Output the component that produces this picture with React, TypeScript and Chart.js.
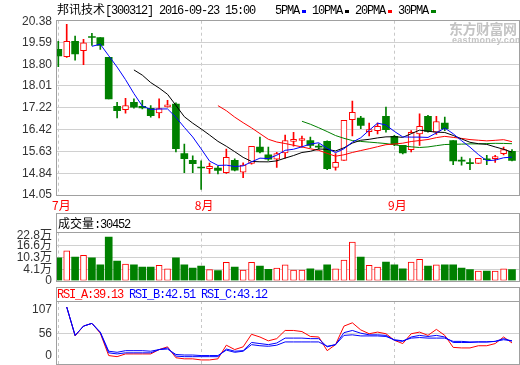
import React, { useEffect, useRef } from 'react';
import { Chart, registerables } from 'chart.js';

Chart.register(...registerables);

// ---------------- data ----------------
const stockName = '邦讯技术';
const stockCode = '[300312]';
const stamp = '2016-09-23 15:00';

const monthIndex = [0, 17, 40];
const monthLabels = ['7月', '8月', '9月'];

const priceTicks = [14.05, 14.84, 15.63, 16.42, 17.22, 18.01, 18.8, 19.59, 20.38];

const openP = [19.34, 19.07, 19.63, 19.29, 19.78, 19.77, 19.05, 17.27, 17.15, 17.42,
  17.27, 17.2, 17.03, 17.25, 17.35, 15.55, 15.31, 15.05, 15.01, 15.03,
  14.86, 15.31, 14.88, 15.2, 15.79, 15.51, 15.35, 15.58, 16.0, 16.03,
  16.03, 15.81, 16.0, 15.05, 15.31, 16.79, 16.84, 16.35, 16.39, 16.91,
  16.18, 15.85, 15.7, 16.27, 16.91, 16.33, 16.66, 16.03, 15.3, 15.2,
  15.2, 15.35, 15.37, 15.55, 15.64];
const highP = [19.63, 20.25, 19.82, 19.7, 19.92, 19.77, 19.05, 17.42, 17.56, 17.54,
  17.49, 17.3, 17.54, 17.49, 17.4, 15.9, 15.47, 15.29, 15.21, 15.1,
  15.72, 15.36, 15.22, 15.82, 16.15, 15.79, 15.6, 16.23, 16.33, 16.19,
  16.15, 15.91, 16.02, 15.55, 16.76, 17.46, 16.91, 16.66, 16.66, 17.24,
  16.22, 15.85, 16.39, 17.0, 16.94, 16.91, 16.88, 16.03, 15.43, 15.37,
  15.38, 15.49, 15.49, 15.79, 15.7];
const lowP = [18.71, 19.05, 18.95, 18.78, 19.48, 19.34, 17.54, 16.85, 17.02, 17.2,
  17.18, 16.88, 16.85, 17.24, 15.61, 14.86, 14.86, 14.25, 14.83, 14.82,
  14.83, 14.92, 14.68, 15.17, 15.58, 15.31, 15.05, 15.39, 15.82, 15.79,
  15.77, 15.71, 14.97, 14.95, 15.31, 16.2, 16.46, 16.2, 16.27, 16.33,
  15.84, 15.54, 15.61, 15.85, 16.33, 16.25, 16.39, 15.15, 15.13, 14.97,
  15.2, 15.15, 15.23, 15.51, 15.29];
const closeP = [19.1, 19.63, 19.17, 19.58, 19.77, 19.48, 17.54, 17.11, 17.3, 17.24,
  17.21, 16.93, 17.19, 17.31, 15.73, 15.37, 15.19, 15.03, 15.09, 14.94,
  15.42, 14.95, 15.14, 15.82, 15.61, 15.35, 15.55, 16.03, 16.02, 16.05,
  15.85, 15.79, 15.01, 15.24, 16.76, 17.05, 16.58, 16.37, 16.54, 16.42,
  15.89, 15.58, 16.33, 16.54, 16.36, 16.72, 16.46, 15.29, 15.28, 15.19,
  15.38, 15.33, 15.41, 15.7, 15.31];

// volume, in 万
const volume = [10.2, 13.8, 10.6, 11.5, 10.1, 6.4, 21.1, 8.5, 6.9, 6.4,
  5.3, 5.3, 6.2, 4.3, 10.2, 6.4, 4.8, 5.8, 3.9, 3.4,
  7.8, 5.3, 3.7, 7.8, 5.8, 4.1, 4.8, 6.4, 3.7, 3.7,
  4.4, 3.4, 6.4, 4.3, 9.0, 18.5, 10.6, 6.2, 5.3, 7.9,
  6.4, 4.3, 7.9, 9.4, 5.8, 6.4, 6.4, 6.4, 4.8, 3.9,
  3.2, 3.2, 3.2, 4.3, 3.9];
const volTicks = [4.1, 10.3, 16.6, 22.8];
const lastVolume = 30452;

const rsiA = [null, 105, 52, 70, 75, 57, 16, 14, 19, 19, 19, 19, 27, 32, 12, 10, 10, 8, 8, 10,
  35, 27, 32, 55, 50, 43, 47, 62, 62, 60, 51, 50, 25, 36, 70, 76, 63, 56, 59, 56,
  44, 38, 56, 59, 53, 64, 53, 31, 30, 30, 34, 34, 38, 50, 39.13];
const rsiB = [null, 105, 53, 70, 75, 58, 21, 19, 21, 21, 21, 21, 27, 30, 15, 14, 14, 14, 14, 14,
  28, 24, 25, 40, 38, 36, 39, 48, 48, 48, 47, 47, 32, 36, 58, 62, 57, 54, 54, 53,
  44, 42, 50, 53, 51, 53, 50, 40, 40, 40, 41, 41, 42, 47, 42.51];
const rsiC = [null, 105, 53, 70, 75, 59, 24, 22, 25, 25, 25, 24, 27, 28, 18, 17, 17, 16, 16, 16,
  26, 22, 24, 36, 34, 33, 35, 41, 41, 41, 41, 41, 33, 36, 53, 54, 52, 52, 52, 51,
  45, 43, 48, 49, 48, 48, 48, 42, 42, 41, 41, 41, 42, 45, 43.12];
const rsiTicks = [0, 56, 107];
const rsiNames = ['RSI_A', 'RSI_B', 'RSI_C'];
const rsiLast = [39.13, 42.51, 43.12];

const maPeriods = [5, 10, 20, 30];
const maNames = ['5PMA', '10PMA', '20PMA', '30PMA'];

// ---------------- styling ----------------
const UP = '#ff0000';
const DOWN = '#008000';
const MA_COLORS = ['#0000ff', '#000000', '#ff0000', '#008000'];
const RSI_COLORS = ['#ff0000', '#0000ff', '#0000ff'];
const GRID = '#d0d0d0';
const VGRID = '#c8c8c8';
const FRAME = '#a0a0a0';
const X_MIN = -0.274;
const X_MAX = 54.834;
const VOL_MIN = -1.8;
const VOL_MAX = 23.5;
const MONO = '"Liberation Mono", "DejaVu Sans Mono", monospace';
const CJK = '"Noto Sans CJK SC", sans-serif';

function movingAverage(values: number[], n: number): (number | null)[] {
  return values.map((_, i) => {
    if (i < n - 1) return null;
    let s = 0;
    for (let k = i - n + 1; k <= i; k++) s += values[k];
    return s / n;
  });
}

type LabelItem = { value: number; text: string };

function axisLabelPlugin(items: LabelItem[], padTop: number, padBottom: number) {
  return {
    id: 'axisLabels',
    afterDraw(chart: any) {
      const { ctx, chartArea } = chart;
      const scale = chart.scales.y;
      ctx.save();
      ctx.font = '12px "Liberation Sans", "Noto Sans CJK SC", sans-serif';
      ctx.fillStyle = '#333333';
      ctx.textAlign = 'right';
      ctx.textBaseline = 'middle';
      items.forEach(({ value, text }) => {
        const raw = scale.getPixelForValue(value);
        const y = Math.min(Math.max(raw, chartArea.top + padTop), chartArea.bottom - padBottom);
        ctx.fillText(text, 52, y);
      });
      ctx.restore();
    },
  };
}

function xAxis(showLabels: boolean, height: number) {
  return {
    type: 'linear',
    min: X_MIN,
    max: X_MAX,
    offset: false,
    afterBuildTicks: (s: any) => {
      s.ticks = monthIndex.map((v) => ({ value: v }));
    },
    afterFit: (s: any) => {
      s.height = height;
    },
    grid: { color: VGRID, drawTicks: false, offset: false, lineWidth: 1 },
    border: { display: false, dash: [3, 3] },
    ticks: showLabels
      ? {
          display: true,
          color: '#ff0000',
          font: { size: 12, family: CJK },
          padding: 3,
          labelOffset: 3,
          autoSkip: false,
          maxRotation: 0,
          callback: (v: number) => {
            const k = monthIndex.indexOf(v);
            return k >= 0 ? monthLabels[k] : '';
          },
        }
      : { display: false },
  };
}

function yAxis(min: number, max: number, ticks: number[], gridOn: (v: number) => boolean) {
  return {
    type: 'linear',
    min,
    max,
    afterBuildTicks: (s: any) => {
      s.ticks = ticks.map((v) => ({ value: v }));
    },
    afterFit: (s: any) => {
      s.width = 56;
    },
    ticks: { display: false },
    grid: {
      drawTicks: false,
      lineWidth: 1,
      color: (c: any) => (c.tick && gridOn(c.tick.value) ? GRID : 'rgba(0,0,0,0)'),
    },
    border: { display: false },
  };
}

const baseOptions = {
  responsive: false,
  maintainAspectRatio: false,
  animation: false,
  devicePixelRatio: 1,
  events: [],
  plugins: { legend: { display: false }, tooltip: { enabled: false }, title: { display: false } },
};

export default function App() {
  const priceRef = useRef<HTMLCanvasElement>(null);
  const volRef = useRef<HTMLCanvasElement>(null);
  const rsiRef = useRef<HTMLCanvasElement>(null);

  useEffect(() => {
    const charts: Chart[] = [];
    const idx = closeP.map((_, i) => i);
    const isUp = idx.map((i) => closeP[i] > openP[i]);

    // ----- price panel -----
    const wicks = idx.map((i) => ({ x: i, y: [lowP[i], highP[i]] }));
    const wickColors = idx.map((i) => (isUp[i] ? UP : DOWN));
    const upBodies = idx.filter((i) => isUp[i]).map((i) => ({ x: i, y: [openP[i], closeP[i]] }));
    const downBodies = idx.filter((i) => !isUp[i]).map((i) => ({ x: i, y: [openP[i], closeP[i]] }));
    const maSets = maPeriods.map((n, k) => ({
      type: 'line',
      data: movingAverage(closeP, n).map((v, i) => ({ x: i, y: v })),
      borderColor: MA_COLORS[k],
      borderWidth: 1,
      pointRadius: 0,
      fill: false,
      tension: 0,
      spanGaps: false,
      order: 0,
    }));

    if (priceRef.current) {
      charts.push(
        new Chart(priceRef.current, {
          type: 'bar',
          data: {
            datasets: [
              { type: 'bar', data: wicks, backgroundColor: wickColors, borderWidth: 0, barThickness: 1, grouped: false, order: 3 },
              { type: 'bar', data: upBodies, backgroundColor: '#ffffff', borderColor: UP, borderWidth: 1, borderSkipped: false, barThickness: 6, minBarLength: 2, grouped: false, order: 2 },
              { type: 'bar', data: downBodies, backgroundColor: DOWN, borderWidth: 0, barThickness: 7, minBarLength: 1, grouped: false, order: 2 },
              ...maSets,
            ] as any,
          },
          options: {
            ...baseOptions,
            layout: { padding: { top: 20.7, right: 1, left: 0, bottom: 0 } },
            scales: {
              x: xAxis(true, 18),
              y: yAxis(priceTicks[0], priceTicks[priceTicks.length - 1], priceTicks, (v) => v !== priceTicks[0] && v !== priceTicks[priceTicks.length - 1]),
            },
          } as any,
          plugins: [axisLabelPlugin(priceTicks.map((v) => ({ value: v, text: v.toFixed(2) })), 1, 0)],
        })
      );
    }

    // ----- volume panel -----
    const upVol = idx.filter((i) => isUp[i]).map((i) => ({ x: i, y: volume[i] }));
    const downVol = idx.filter((i) => !isUp[i]).map((i) => ({ x: i, y: volume[i] }));
    if (volRef.current) {
      const volLabels: LabelItem[] = [{ value: VOL_MIN, text: '0' }, ...volTicks.map((v) => ({ value: v, text: `${v.toFixed(1)}万` }))];
      charts.push(
        new Chart(volRef.current, {
          type: 'bar',
          data: {
            datasets: [
              { type: 'bar', data: upVol, backgroundColor: '#ffffff', borderColor: UP, borderWidth: 1, borderSkipped: false, barThickness: 6, base: VOL_MIN, grouped: false },
              { type: 'bar', data: downVol, backgroundColor: DOWN, borderWidth: 0, barThickness: 7, base: VOL_MIN, grouped: false },
            ] as any,
          },
          options: {
            ...baseOptions,
            layout: { padding: { top: 4.5, right: 1, left: 0, bottom: 0 } },
            scales: {
              x: xAxis(false, 7.5),
              y: yAxis(VOL_MIN, VOL_MAX, volTicks, (v) => v !== volTicks[volTicks.length - 1]),
            },
          } as any,
          plugins: [axisLabelPlugin(volLabels, 3.5, 0)],
        })
      );
    }

    // ----- RSI panel -----
    if (rsiRef.current) {
      const rsiSets = [rsiA, rsiB, rsiC].map((arr, k) => ({
        type: 'line',
        data: arr.map((v, i) => ({ x: i, y: v })),
        borderColor: RSI_COLORS[k],
        borderWidth: 1,
        pointRadius: 0,
        fill: false,
        tension: 0,
        spanGaps: false,
        order: 2 - k,
      }));
      charts.push(
        new Chart(rsiRef.current, {
          type: 'line',
          data: { datasets: rsiSets as any },
          options: {
            ...baseOptions,
            layout: { padding: { top: 5, right: 1, left: 0, bottom: 0 } },
            scales: {
              x: xAxis(false, 0.7),
              y: yAxis(0, 116, rsiTicks, (v) => v === 56),
            },
          } as any,
          plugins: [axisLabelPlugin(rsiTicks.map((v) => ({ value: v, text: String(v) })), 8.5, 9)],
        })
      );
    }

    return () => charts.forEach((c) => c.destroy());
  }, []);

  const frame = (left: number, top: number, width: number, height: number): React.CSSProperties => ({
    position: 'absolute',
    left,
    top,
    width,
    height,
    border: `1px solid ${FRAME}`,
    boxSizing: 'border-box',
    pointerEvents: 'none',
  });
  const mono: React.CSSProperties = { fontFamily: MONO, fontSize: 12, letterSpacing: '-1.2px', lineHeight: '12px', whiteSpace: 'pre' };
  const cjk: React.CSSProperties = { fontFamily: CJK, fontSize: 12, lineHeight: '12px', whiteSpace: 'pre' };

  return (
    <div style={{ position: 'absolute', left: 0, top: 0, width: 520, height: 365, background: '#ffffff', overflow: 'hidden' }}>
      <canvas ref={priceRef} width={520} height={213} style={{ position: 'absolute', left: 0, top: 0, width: 520, height: 213 }} />
      <canvas ref={volRef} width={520} height={60} style={{ position: 'absolute', left: 0, top: 228, width: 520, height: 60 }} />
      <canvas ref={rsiRef} width={520} height={69} style={{ position: 'absolute', left: 0, top: 296, width: 520, height: 69 }} />

      {/* title */}
      <div style={{ position: 'absolute', left: 57, top: 3, color: '#000', display: 'flex', alignItems: 'baseline' }}>
        <span style={cjk}>{stockName}</span>
        <span style={mono}>{`${stockCode} ${stamp}`}</span>
      </div>

      {/* legend */}
      <div style={{ position: 'absolute', left: 275, top: 5, display: 'flex', alignItems: 'center', color: '#000' }}>
        {maNames.map((name, k) => (
          <React.Fragment key={name}>
            <span style={mono}>{name}</span>
            <span style={{ display: 'inline-block', width: k === 3 ? 5 : 4, height: 3, background: MA_COLORS[k], marginLeft: 3, marginRight: 6 }} />
          </React.Fragment>
        ))}
      </div>

      {/* watermark */}
      <div style={{ position: 'absolute', left: 449, top: 21, fontFamily: CJK, fontWeight: 700, fontSize: 14, lineHeight: '14px', color: '#c4c4c4', letterSpacing: '-0.5px' }}>东方财富网</div>
      <div style={{ position: 'absolute', left: 452, top: 36, fontFamily: '"Liberation Sans", sans-serif', fontWeight: 700, fontSize: 9, lineHeight: '9px', color: '#c4c4c4', letterSpacing: '0.3px' }}>eastmoney.com</div>

      {/* frames */}
      <div style={frame(56, 20, 464, 176)} />
      <div style={frame(56, 213, 464, 20)} />
      <div style={frame(56, 232, 464, 50)} />
      <div style={frame(56, 287, 464, 15)} />
      <div style={frame(56, 301, 464, 64)} />

      {/* volume header */}
      <div style={{ position: 'absolute', left: 58, top: 217, color: '#000', display: 'flex', alignItems: 'baseline' }}>
        <span style={cjk}>成交量</span>
        <span style={mono}>{`:${lastVolume}`}</span>
      </div>

      {/* RSI header */}
      <div style={{ position: 'absolute', left: 57, top: 289, display: 'flex' }}>
        {rsiNames.map((n, k) => (
          <span key={n} style={{ ...mono, color: RSI_COLORS[k] }}>{`${n}:${rsiLast[k].toFixed(2)}${k < 2 ? ' ' : ''}`}</span>
        ))}
      </div>
    </div>
  );
}
